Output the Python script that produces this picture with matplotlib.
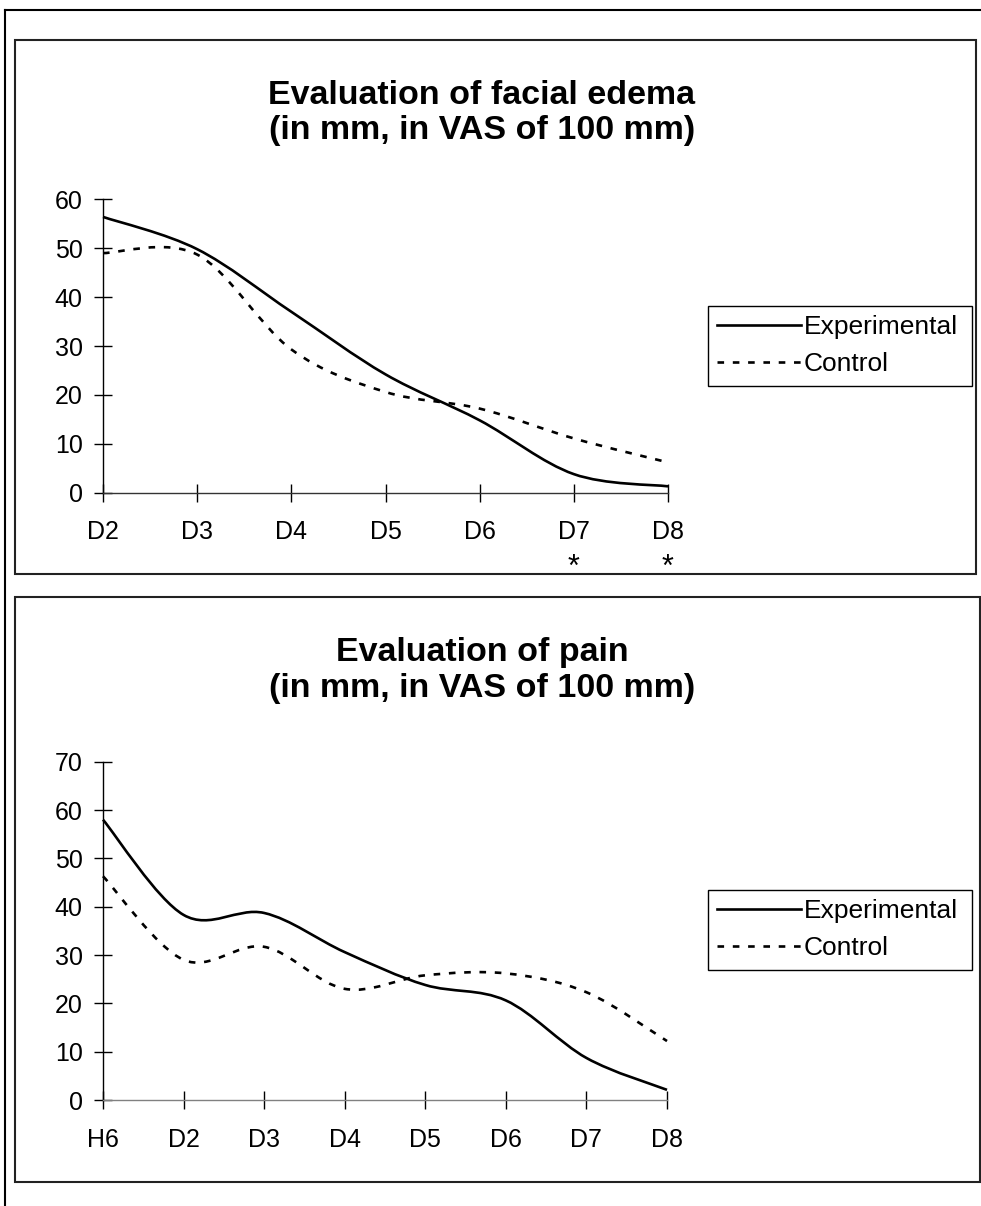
import matplotlib
matplotlib.use("Agg")
import matplotlib.pyplot as plt
from matplotlib.path import Path
from matplotlib.patches import PathPatch, Rectangle
from matplotlib.lines import Line2D
from matplotlib.transforms import blended_transform_factory

plt.rcParams['font.family'] = ['Liberation Sans', 'DejaVu Sans']

# --- data ---
edema_days = ['D2', 'D3', 'D4', 'D5', 'D6', 'D7', 'D8']
edema_experimental = [56.4, 49.8, 37.0, 24.2, 14.8, 3.8, 1.3]
edema_control = [49.0, 48.7, 29.3, 20.6, 17.2, 11.1, 6.2]
edema_signif = ['D7', 'D8']

pain_days = ['H6', 'D2', 'D3', 'D4', 'D5', 'D6', 'D7', 'D8']
pain_experimental = [58.0, 38.3, 38.7, 30.6, 23.8, 20.6, 8.7, 2.1]
pain_control = [46.3, 29.0, 31.7, 23.0, 25.8, 26.2, 22.3, 12.2]

W, H = 981, 1206


def fx(x):
    return x / W


def fy(y):
    return 1 - y / H


def smooth_path(xs, ys):
    """Bezier path through the points, like Excel's smoothed line."""
    pts = list(zip(xs, ys))
    n = len(pts)
    verts = [pts[0]]
    codes = [Path.MOVETO]
    for i in range(n - 1):
        p0 = pts[max(i - 1, 0)]
        p1 = pts[i]
        p2 = pts[i + 1]
        p3 = pts[min(i + 2, n - 1)]
        c1 = (p1[0] + (p2[0] - p0[0]) / 6, p1[1] + (p2[1] - p0[1]) / 6)
        c2 = (p2[0] - (p3[0] - p1[0]) / 6, p2[1] - (p3[1] - p1[1]) / 6)
        verts += [c1, c2, p2]
        codes += [Path.CURVE4] * 3
    return Path(verts, codes)


solid = dict(color='black', lw=1.9, linestyle='-')
dashed = dict(color='black', lw=1.9, linestyle=(0, (2.5, 3.3)))

fig = plt.figure(figsize=(W / 100, H / 100), dpi=100)

# outer frame of the page
fig.add_artist(Line2D([fx(5), 1], [fy(10), fy(10)], color='black', lw=1.5))
fig.add_artist(Line2D([fx(5), fx(5)], [fy(10), 0], color='black', lw=1.5))

# panel boxes
for (x0, y0, x1, y1) in [(15, 40, 976, 574), (15, 597, 980, 1182)]:
    fig.add_artist(Rectangle((fx(x0), fy(y1)), fx(x1) - fx(x0), fy(y0) - fy(y1),
                             fill=False, edgecolor='#222222', lw=1.5))


def draw_panel(rect, days, exp, ctl, ymax, title, title_y, legend_box, xcolor, xpad):
    ax = fig.add_axes(rect)
    xs = list(range(len(days)))
    ax.add_patch(PathPatch(smooth_path(xs, exp), fill=False, capstyle='butt',
                           clip_on=False, **solid))
    ax.add_patch(PathPatch(smooth_path(xs, ctl), fill=False, capstyle='butt',
                           clip_on=False, **dashed))
    ax.set_xlim(0, len(days) - 1)
    ax.set_ylim(0, ymax)
    ax.set_xticks(xs)
    ax.set_xticklabels(days)
    ax.set_yticks(range(0, ymax + 1, 10))
    for s in ['top', 'right']:
        ax.spines[s].set_visible(False)
    ax.spines['left'].set_color('black')
    ax.spines['bottom'].set_color(xcolor)
    ax.spines['left'].set_linewidth(1.0)
    ax.spines['bottom'].set_linewidth(1.0)
    ax.tick_params(axis='both', direction='inout', length=13, width=1.0,
                   labelsize=18, colors='black')
    ax.tick_params(axis='y', pad=8)
    ax.tick_params(axis='x', pad=xpad)
    ax.patch.set_alpha(0)

    for i, line in enumerate(title):
        fig.text(fx(482), fy(title_y[i]), line, ha='center', va='center',
                 fontsize=24.5, fontweight='bold')

    # legend: frame drawn separately so the inner spacing can match
    lx0, ly0, lx1, ly1 = legend_box
    fig.add_artist(Rectangle((fx(lx0), fy(ly1)), fx(lx1) - fx(lx0), fy(ly0) - fy(ly1),
                             fill=False, edgecolor='black', lw=1.0))
    handles = [Line2D([], [], **solid), Line2D([], [], **dashed)]
    fig.legend(handles, ['Experimental', 'Control'],
               loc='upper left', bbox_to_anchor=(fx(lx0 + 9), fy(ly0 + 9)),
               frameon=False, fontsize=19, handlelength=3.2, handletextpad=0.08,
               borderpad=0, labelspacing=0.5, borderaxespad=0)
    return ax


ax1 = draw_panel([fx(103), fy(492.7), fx(668) - fx(103), fy(199.3) - fy(492.7)],
                 edema_days, edema_experimental, edema_control, 60,
                 ['Evaluation of facial edema', '(in mm, in VAS of 100 mm)'],
                 [95, 130], (708, 306, 972, 386), '#333333', 13)

# significance marks under the last days
mark_tr = blended_transform_factory(ax1.transData, fig.transFigure)
for d in edema_signif:
    ax1.text(edema_days.index(d), fy(568), '*', transform=mark_tr,
             ha='center', va='center', fontsize=22)

ax2 = draw_panel([fx(103), fy(1100), fx(667) - fx(103), fy(761.7) - fy(1100)],
                 pain_days, pain_experimental, pain_control, 70,
                 ['Evaluation of pain', '(in mm, in VAS of 100 mm)'],
                 [653, 688], (708, 890, 972, 970), '#808080', 14)

plt.savefig('out.png', dpi=100)
